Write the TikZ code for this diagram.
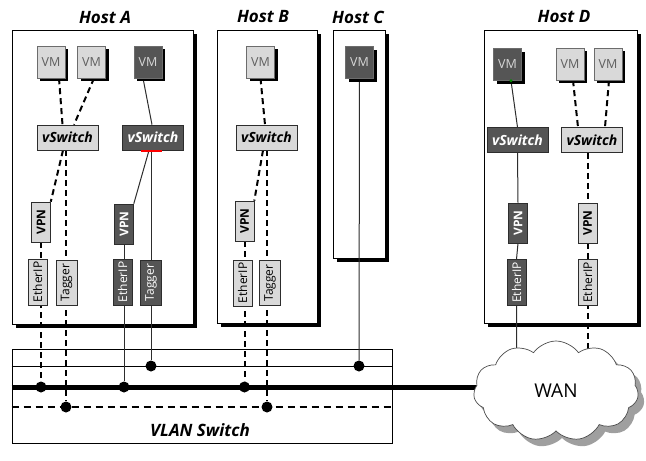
\documentclass[tikz,border=0pt]{standalone}
\usepackage{fontspec}
\setmainfont{Open Sans}
\usetikzlibrary{shapes.symbols,shadows}
\definecolor{lt}{RGB}{217,217,217}
\definecolor{dk}{RGB}{85,85,85}
\definecolor{vmtxt}{RGB}{95,95,95}
\definecolor{dktxt}{RGB}{215,215,215}
\definecolor{ln}{RGB}{45,45,45}
\pgfdeclarelayer{hostlayer}
\pgfdeclarelayer{linelayer}
\pgfsetlayers{hostlayer,linelayer,main}
\tikzset{
 hostbox/.style={draw=black, line width=0.8pt, fill=white, inner sep=0pt,
   drop shadow={shadow xshift=3.5pt, shadow yshift=-3.5pt, fill=black, opacity=1}},
 hosttitle/.style={font=\fontsize{17}{19}\selectfont\bfseries\itshape},
 vmL/.style={draw=ln!70, line width=0.5pt, fill=lt, minimum width=28pt, minimum height=32pt,
   inner sep=0pt, text=vmtxt, font=\fontsize{12.5}{14}\selectfont,
   drop shadow={shadow xshift=3pt, shadow yshift=-3pt, fill=black, opacity=1}},
 vmD/.style={vmL, fill=dk, text=dktxt},
 swL/.style={draw=ln, line width=0.6pt, fill=lt, minimum width=61pt, minimum height=25pt,
   inner sep=0pt, font=\fontsize{14}{16}\selectfont\bfseries\itshape},
 swD/.style={swL, fill=dk, text=white},
 vbL/.style={draw=ln, line width=0.6pt, fill=lt, rotate=90, inner sep=0pt,
   font=\fontsize{12}{13}\selectfont},
 vbD/.style={vbL, fill=dk, text=white},
 vpnL/.style={vbL, minimum width=40pt, minimum height=19pt, font=\fontsize{12}{13}\selectfont\bfseries},
 vpnD/.style={vpnL, fill=dk, text=white},
 ethL/.style={vbL, minimum width=46pt, minimum height=19pt},
 ethD/.style={ethL, fill=dk, text=white},
 tagL/.style={vbL, minimum width=45pt, minimum height=21pt},
 tagD/.style={tagL, fill=dk, text=white},
 dotn/.style={circle, fill=black, inner sep=0pt, minimum size=11pt},
 dln/.style={line width=2pt, dash pattern=on 6pt off 4pt},
 sln/.style={line width=1pt, draw=ln},
}
\begin{document}
\begin{tikzpicture}[x=1pt,y=-1pt]
\useasboundingbox (0,0) rectangle (646,461);

\begin{pgfonlayer}{hostlayer}
\node[hostbox, minimum width=181pt, minimum height=294pt] (hA) at (102.5,177) {};
\node[hostbox, minimum width=100pt, minimum height=293pt] (hB) at (267,176.5) {};
\node[hostbox, minimum width=52pt, minimum height=228pt] (hC) at (359,144) {};
\node[hostbox, minimum width=153pt, minimum height=293pt] (hD) at (560.5,176.5) {};
\node[draw=black, line width=0.8pt, fill=white, minimum width=380pt, minimum height=94pt, inner sep=0pt] (vlan) at (202,396) {};
\end{pgfonlayer}

% titles
\node[hosttitle] (tA) at (105,17) {Host A};
\node[hosttitle] (tB) at (263,17) {Host B};
\node[hosttitle] (tC) at (358,17) {Host C};
\node[hosttitle] (tD) at (564,17) {Host D};
\node[hosttitle] (vlanlbl) at (200,430) {VLAN Switch};

% Host A
\node[vmL] (a1) at (51,62) {VM};
\node[vmL] (a2) at (91.5,62) {VM};
\node[vmD] (a3) at (148,62) {VM};
\node[swL] (swAL) at (67.5,137.5) {vSwitch};
\node[swD] (swAD) at (153,137.5) {vSwitch};
\node[vpnL] (vpnAL) at (41,222) {VPN};
\node[ethL] (ethAL) at (37.5,282) {EtherIP};
\node[tagL] (tagAL) at (66.5,282.5) {Tagger};
\node[vpnD] (vpnAD) at (124,224) {VPN};
\node[ethD] (ethAD) at (122.5,282) {EtherIP};
\node[tagD] (tagAD) at (151,282.5) {Tagger};

% Host B
\node[vmL] (b1) at (260.5,62) {VM};
\node[swL] (swB) at (266.5,137.5) {vSwitch};
\node[vpnL] (vpnB) at (244.5,221) {VPN};
\node[ethL] (ethB) at (242.5,283) {EtherIP};
\node[tagL] (tagB) at (270,283) {Tagger};

% Host C
\node[vmD] (c1) at (359.5,62.5) {VM};

% Host D
\node[vmD] (d1) at (507.5,64.5) {VM};
\node[vmL] (d2) at (570,64) {VM};
\node[vmL] (d3) at (608,64) {VM};
\node[swD] (swDD) at (517.5,140) {vSwitch};
\node[swL] (swDL) at (592,140) {vSwitch};
\node[vpnD] (vpnDD) at (518,223) {VPN};
\node[vpnL] (vpnDL) at (587.5,223) {VPN};
\node[ethD] (ethDD) at (516.5,282.5) {EtherIP};
\node[ethL] (ethDL) at (587.5,282.5) {EtherIP};

% bus dots
\node[dotn] (dA1) at (41,387) {};
\node[dotn] (dA2) at (66,407) {};
\node[dotn] (dA3) at (124,387) {};
\node[dotn] (dA4) at (151,366) {};
\node[dotn] (dB1) at (244.5,387) {};
\node[dotn] (dB2) at (267,407) {};
\node[dotn] (dC) at (359,366) {};

% WAN cloud
\node[cloud, cloud puffs=11, cloud puff arc=110, aspect=1.7, draw=ln!85, fill=white,
  line width=0.7pt, minimum width=165pt, minimum height=100pt, inner sep=0pt,
  drop shadow={shadow xshift=6pt, shadow yshift=-7pt, fill=gray!75, opacity=1},
  font=\fontsize{19}{21}\selectfont] (wan) at (556,391) {WAN};

% small marks
\fill[red] ([xshift=-12pt]swAD.south) rectangle ([xshift=9pt,yshift=-2pt]swAD.south);
\fill[green!55!black] ([xshift=3.5pt]d1.south) circle (1.6pt);

\begin{pgfonlayer}{linelayer}
% buses
\draw[line width=1pt] (vlan.west |- dA4) -- (vlan.east |- dA4);
\draw[line width=5pt] (vlan.west |- dA1) -- (wan.center |- dA1);
\draw[line width=2pt, dash pattern=on 7pt off 5pt] (vlan.west |- dA2) -- (vlan.east |- dA2);
% Host A
\draw[dln] ([xshift=8pt]a1.south) -- ([xshift=-5pt]swAL.north);
\draw[dln] ([xshift=2.5pt]a2.south) -- ([xshift=6.5pt]swAL.north);
\draw[sln] ([xshift=-5pt]a3.south) -- ([xshift=-1pt]swAD.north);
\draw[dln] ([xshift=-4.5pt]swAL.south) -- (vpnAL.south east);
\draw[dln] (swAL.south -| dA2) -- (dA2);
\draw[dln] (vpnAL.west) -- (dA1);
\draw[sln] ([xshift=-4pt]swAD.south) -- (vpnAD.south east);
\draw[sln] (swAD.south -| dA4) -- (dA4);
\draw[sln] (vpnAD.west) -- (dA3);
% Host B
\draw[dln] (b1.south) -- ([xshift=-1.5pt]swB.north);
\draw[dln] ([xshift=-3.5pt]swB.south) -- (vpnB.south east);
\draw[dln] (swB.south -| dB2) -- (dB2);
\draw[dln] (vpnB.west) -- (dB1);
% Host C
\draw[sln] (c1.south) -- (dC);
% Host D
\draw[sln] ([xshift=3.5pt]d1.south) -- (swDD.north);
\draw[dln] ([xshift=3pt]d2.south) -- ([xshift=-14pt]swDL.north);
\draw[dln] ([xshift=1pt]d3.south) -- ([xshift=13pt]swDL.north);
\draw[sln] (swDD.south) -- (vpnDD.east);
\draw[sln] (vpnDD.west) -- (ethDD.east) -- (ethDD.east |- wan.center);
\draw[dln] (vpnDL.east |- swDL.south) -- (vpnDL.east |- wan.center);
\end{pgfonlayer}
\end{tikzpicture}
\end{document}
